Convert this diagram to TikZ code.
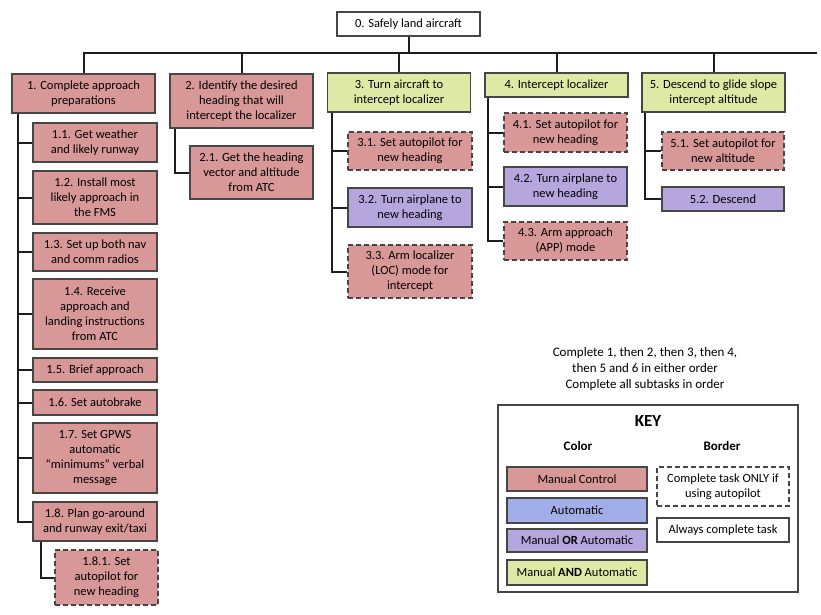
\documentclass[tikz,border=0pt]{standalone}
\usepackage{fontspec}
\setmainfont{Carlito}
\usetikzlibrary{positioning}
\definecolor{manualc}{RGB}{217,152,152}
\definecolor{autoc}{RGB}{162,174,232}
\definecolor{eitherc}{RGB}{182,166,222}
\definecolor{bothc}{RGB}{222,233,165}
\definecolor{boxc}{RGB}{70,70,70}
\definecolor{linkc}{RGB}{30,30,30}

\begin{document}
\begin{tikzpicture}[
    x = 1pt, y = -1pt,
    font = \fontsize{12.5}{15}\selectfont,
    link/.style = {draw=linkc, line width=2pt},
    task/.style = {draw=boxc, line width=1.3pt, align=center, inner sep=2pt},
    manualbox/.style = {task, fill=manualc},
    autobox/.style = {task, fill=autoc},
    eitherbox/.style = {task, fill=eitherc},
    bothbox/.style = {task, fill=bothc},
    plainbox/.style = {task, fill=white},
    optional/.style = {dash pattern=on 5pt off 3pt},
    lvlone/.style = {minimum width=143pt},
    lvltwo/.style = {minimum width=124pt},
    keybox/.style = {minimum width=140pt},
    head/.style = {font=\bfseries\fontsize{13}{15}\selectfont}
]
    \useasboundingbox (0,0) rectangle (821,614);

    % goal and main tasks
    \node[plainbox, lvlone, minimum height=24pt] (n0) at (408.5,24) {0. Safely land aircraft};
    \node[manualbox, lvlone, minimum height=39pt] (n1) at (83.5,93.5) {1. Complete approach\\preparations};
    \node[manualbox, lvlone, minimum height=54pt] (n2) at (241.5,101) {2. Identify the desired\\heading that will\\intercept the localizer};
    \node[bothbox, lvlone, minimum height=39pt] (n3) at (399,92.5) {3. Turn aircraft to\\intercept localizer};
    \node[bothbox, lvlone, minimum height=24pt] (n4) at (556.5,85) {4. Intercept localizer};
    \node[bothbox, lvlone, minimum height=39pt] (n5) at (713.5,92.5) {5. Descend to glide slope\\intercept altitude};

    \coordinate (bus) at (817,53);
    \draw[link] (n1.north) |- (bus);
    \draw[link] (n0.south) -- (n0.south |- bus);
    \foreach \n in {n2,n3,n4,n5}
        \draw[link] (\n.north) -- (\n.north |- bus);

    % subtasks of 1
    \node[manualbox, lvltwo, minimum height=39pt] (n11) at (95,142.5) {1.1. Get weather\\and likely runway};
    \node[manualbox, lvltwo, minimum height=53pt] (n12) at (95,197.5) {1.2. Install most\\likely approach in\\the FMS};
    \node[manualbox, lvltwo, minimum height=38pt] (n13) at (95,252) {1.3. Set up both nav\\and comm radios};
    \node[manualbox, lvltwo, minimum height=70pt] (n14) at (95,314) {1.4. Receive\\approach and\\landing instructions\\from ATC};
    \node[manualbox, lvltwo, minimum height=24pt] (n15) at (95,370) {1.5. Brief approach};
    \node[manualbox, lvltwo, minimum height=25pt] (n16) at (95,402.5) {1.6. Set autobrake};
    \node[manualbox, lvltwo, minimum height=70pt] (n17) at (95,458) {1.7. Set GPWS\\automatic\\“minimums” verbal\\message};
    \node[manualbox, lvltwo, minimum height=39pt] (n18) at (95,521.5) {1.8. Plan go-around\\and runway exit/taxi};
    \node[manualbox, optional, minimum width=103pt, minimum height=55pt] (n181) at (106.5,577.5) {1.8.1. Set\\autopilot for\\new heading};

    \draw[link] ([xshift=7pt]n1.south west) coordinate (t1) |- (n18.west);
    \foreach \c in {11,...,17}
        \draw[link] (t1 |- n\c.west) -- (n\c.west);
    \draw[link] ([xshift=9pt]n18.south west) |- (n181.west);

    % subtask of 2
    \node[manualbox, minimum width=123pt, minimum height=53pt] (n21) at (251.5,172.5) {2.1. Get the heading\\vector and altitude\\from ATC};
    \draw[link] ([xshift=6pt]n2.south west) |- (n21.west);

    % subtasks of 3
    \node[manualbox, optional, lvltwo, minimum height=38pt] (n31) at (410,151) {3.1. Set autopilot for\\new heading};
    \node[eitherbox, lvltwo, minimum height=39pt] (n32) at (410,207.5) {3.2. Turn airplane to\\new heading};
    \node[manualbox, optional, lvltwo, minimum height=53pt] (n33) at (410,271.5) {3.3. Arm localizer\\(LOC) mode for\\intercept};
    \draw[link] ([xshift=5pt]n3.south west) coordinate (t3) |- (n33.west);
    \foreach \c in {31,32}
        \draw[link] (t3 |- n\c.west) -- (n\c.west);

    % subtasks of 4
    \node[manualbox, optional, minimum width=123pt, minimum height=39pt] (n41) at (565.5,132.5) {4.1. Set autopilot for\\new heading};
    \node[eitherbox, minimum width=123pt, minimum height=39pt] (n42) at (565.5,186.5) {4.2. Turn airplane to\\new heading};
    \node[manualbox, optional, minimum width=123pt, minimum height=38pt] (n43) at (565.5,241) {4.3. Arm approach\\(APP) mode};
    \draw[link] ([xshift=4pt]n4.south west) coordinate (t4) |- (n43.west);
    \foreach \c in {41,42}
        \draw[link] (t4 |- n\c.west) -- (n\c.west);

    % subtasks of 5
    \node[manualbox, optional, minimum width=122pt, minimum height=38pt] (n51) at (723,151) {5.1. Set autopilot for\\new altitude};
    \node[eitherbox, minimum width=122pt, minimum height=24pt] (n52) at (723,199) {5.2. Descend};
    \draw[link] ([xshift=4pt]n5.south west) coordinate (t5) |- (n52.west);
    \draw[link] (t5 |- n51.west) -- (n51.west);

    % order note and key
    \node[align=center, font=\fontsize{13}{16}\selectfont] (note) at (645,369) {Complete 1, then 2, then 3, then 4,\\then 5 and 6 in either order\\Complete all subtasks in order};

    \node[draw=boxc, line width=1.3pt, minimum width=300pt, minimum height=187pt] (key) at (648,498.5) {};
    \node[font=\bfseries\fontsize{17}{19}\selectfont] (keyt) at (648,421) {KEY};
    \node[head] (colorh) at (578,446) {Color};
    \node[head] (borderh) at (722,446) {Border};

    \node[manualbox, keybox, minimum height=24pt] (kman) at (577,479) {Manual Control};
    \node[autobox, keybox, minimum height=25pt] (kauto) at (577,510.5) {Automatic};
    \node[eitherbox, keybox, minimum height=23pt] (kor) at (577,540.5) {Manual \textbf{OR} Automatic};
    \node[bothbox, keybox, minimum height=25pt] (kand) at (577,572.5) {Manual \textbf{AND} Automatic};
    \node[plainbox, optional, minimum width=132pt, minimum height=39pt] (kopt) at (723,486.5) {Complete task ONLY if\\using autopilot};
    \node[plainbox, minimum width=132pt, minimum height=24pt] (kall) at (723,530) {Always complete task};
\end{tikzpicture}
\end{document}
